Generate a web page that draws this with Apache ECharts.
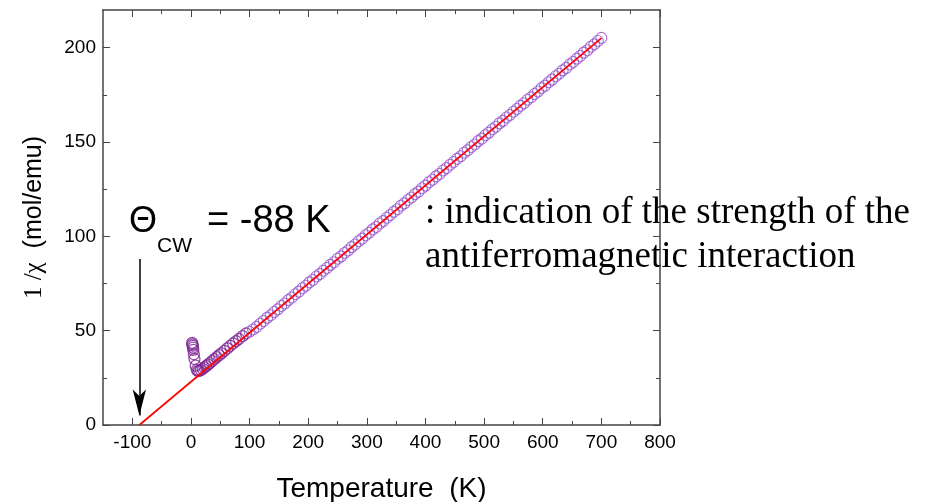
<!DOCTYPE html>
<html>
<head>
<meta charset="utf-8">
<script src="https://cdn.jsdelivr.net/npm/echarts@6/dist/echarts.min.js"></script>
<style>
  html, body { margin: 0; padding: 0; background: #fff; }
  #chart { width: 933px; height: 502px; }
</style>
</head>
<body>
<div id="chart"></div>
<script>
// low temperature points (upturn + region slightly above the fit)
const lowTemp = [2, 2.5, 3, 3.5, 4, 5, 6, 8, 10, 12, 14, 17, 20, 23, 26, 29, 32, 36, 40, 44, 48, 52, 57, 62, 67, 72, 77, 82, 88, 94];
const lowChi  = [43.5, 42.8, 42.0, 41.0, 39.8, 37.5, 35.0, 31.5, 29.2, 28.6, 28.7, 29.1, 29.8, 30.5, 31.2, 32.0, 32.8, 33.9, 34.9, 36.0, 37.0, 38.0, 39.3, 40.6, 41.9, 43.2, 44.4, 45.6, 47.1, 48.5];

// 100 K .. 700 K
const temp = [100, 106, 112, 118, 124, 130, 136, 142, 148, 154, 160, 166, 172, 178, 184, 190, 196, 202, 208, 214,
  220, 226, 232, 238, 244, 250, 256, 262, 268, 274, 280, 286, 292, 298, 304, 310, 316, 322, 328, 334,
  340, 346, 352, 358, 364, 370, 376, 382, 388, 394, 400, 406, 412, 418, 424, 430, 436, 442, 448, 454,
  460, 466, 472, 478, 484, 490, 496, 502, 508, 514, 520, 526, 532, 538, 544, 550, 556, 562, 568, 574,
  580, 586, 592, 598, 604, 610, 616, 622, 628, 634, 640, 646, 652, 658, 664, 670, 676, 682, 688, 694, 700];
const chi = [49.4, 50.6, 52.0, 53.7, 55.1, 56.8, 58.2, 59.9, 61.3, 63.1, 64.4, 66.2, 67.6, 69.3, 70.7, 72.5, 73.8, 75.6, 76.9, 78.7,
  80.0, 81.8, 83.2, 84.9, 86.3, 88.1, 89.4, 91.2, 92.5, 94.3, 95.7, 97.4, 98.8, 100.6, 101.9, 103.7, 105.0, 106.8, 108.1, 109.9,
  111.3, 113.0, 114.4, 116.2, 117.5, 119.3, 120.6, 122.4, 123.7, 125.5, 126.9, 128.7, 130.0, 131.8, 133.1, 134.9, 136.2, 138.0, 139.4, 141.1,
  142.5, 144.3, 145.6, 147.4, 148.7, 150.5, 151.8, 153.6, 155.0, 156.8, 158.1, 159.9, 161.2, 163.0, 164.3, 166.1, 167.5, 169.2, 170.6, 172.4,
  173.7, 175.5, 176.8, 178.6, 179.9, 181.7, 183.1, 184.9, 186.2, 188.0, 189.3, 191.1, 192.4, 194.2, 195.6, 197.4, 198.7, 200.5, 201.8, 203.6, 205.2];

// Curie-Weiss fit line
const fitTemp = [-88, 700];
const fitChi = [0, 205.1];

const thetaCW = -88;
const arrowChi = [88, 5];

const xRange = [-150, 800];
const xMajor = [-100, 0, 100, 200, 300, 400, 500, 600, 700, 800];
const xMinor = [-50, 50, 150, 250, 350, 450, 550, 650, 750];
const yRange = [0, 220];
const yMajor = [0, 50, 100, 150, 200];
const yMinor = [25, 75, 125, 175];

const SANS = '"Liberation Sans", Arial, sans-serif';
const SERIF = '"Liberation Serif", "Times New Roman", serif';
const AXIS_COLOR = '#444';

function zip(a, b) { return a.map((v, i) => [v, b[i]]); }

// one axis = one side of the frame, ticks given explicitly
function frameAxis(pos, range, ticks, len, withLine, label) {
  return {
    type: 'value', position: pos,
    min: range[0], max: range[1], interval: 50,
    axisLine: { show: withLine, onZero: false, lineStyle: { color: AXIS_COLOR, width: 1.5 } },
    axisTick: { show: true, inside: true, length: len, customValues: ticks, lineStyle: { color: AXIS_COLOR, width: 1 } },
    axisLabel: label || { show: false },
    splitLine: { show: false }
  };
}

const chart = echarts.init(document.getElementById('chart'), null, { renderer: 'canvas' });

const xBottom = frameAxis('bottom', xRange, xMajor, 7, true, {
  show: true, customValues: xMajor, fontFamily: SANS, fontSize: 19, color: '#000', margin: 8
});
Object.assign(xBottom, {
  name: 'Temperature  (K)', nameLocation: 'middle', nameGap: 50,
  nameTextStyle: { fontFamily: SANS, fontSize: 28, color: '#000' }
});

const yLeft = frameAxis('left', yRange, yMajor, 7, true, {
  show: true, customValues: yMajor, fontFamily: SANS, fontSize: 19, color: '#000', margin: 7
});
Object.assign(yLeft, {
  name: '{s|1 /χ}  (mol/emu)', nameLocation: 'middle', nameGap: 56, nameRotate: 90,
  nameTextStyle: {
    fontFamily: SANS, fontSize: 25, color: '#000',
    rich: { s: { fontFamily: SERIF, fontSize: 25, color: '#000' } }
  }
});

chart.setOption({
  animation: false,
  backgroundColor: '#fff',
  grid: { left: 103, right: 273, top: 10, bottom: 77, outerBoundsMode: 'none', containLabel: false },
  xAxis: [
    xBottom,
    frameAxis('bottom', xRange, xMinor, 4, false),
    frameAxis('top', xRange, xMajor, 7, true),
    frameAxis('top', xRange, xMinor, 4, false)
  ],
  yAxis: [
    yLeft,
    frameAxis('left', yRange, yMinor, 4, false),
    frameAxis('right', yRange, yMajor, 7, true),
    frameAxis('right', yRange, yMinor, 4, false)
  ],
  series: [
    {
      name: 'low T', type: 'scatter', symbol: 'circle', symbolSize: 11,
      data: zip(lowTemp, lowChi),
      itemStyle: { color: 'rgba(0,0,0,0)', borderColor: '#7c2494', borderWidth: 1.3 },
      z: 2
    },
    {
      name: 'data', type: 'scatter', symbol: 'circle', symbolSize: 11,
      data: zip(temp, chi),
      itemStyle: { color: 'rgba(0,0,0,0)', borderColor: '#9150c8', borderWidth: 1.1 },
      z: 2
    },
    {
      name: 'fit', type: 'line', showSymbol: false, symbol: 'none',
      data: zip(fitTemp, fitChi),
      lineStyle: { color: '#ff0000', width: 1.7 },
      z: 3
    },
    {
      name: 'arrow', type: 'line', data: [],
      markLine: {
        silent: true, animation: false,
        symbol: ['none', 'arrow'], symbolSize: [10, 26],
        label: { show: false },
        lineStyle: { color: '#000', width: 1.5, type: 'solid' },
        data: [[{ coord: [thetaCW, arrowChi[0]] }, { coord: [thetaCW, arrowChi[1]] }]]
      },
      z: 4
    }
  ],
  graphic: [
    { type: 'text', x: 129, y: 222, style: { text: 'Θ', font: '36px ' + SANS, fill: '#000', verticalAlign: 'middle' } },
    { type: 'text', x: 157, y: 246, style: { text: 'CW', font: '21px ' + SANS, fill: '#000', verticalAlign: 'middle' } },
    { type: 'text', x: 207, y: 222, style: { text: '= -88 K', font: '38px ' + SANS, fill: '#000', verticalAlign: 'middle' } },
    { type: 'text', x: 425, y: 213, style: { text: ': indication of the strength of the', font: '37px ' + SERIF, fill: '#000', verticalAlign: 'middle' } },
    { type: 'text', x: 425, y: 257, style: { text: 'antiferromagnetic interaction', font: '37px ' + SERIF, fill: '#000', verticalAlign: 'middle' } }
  ]
});
</script>
</body>
</html>
